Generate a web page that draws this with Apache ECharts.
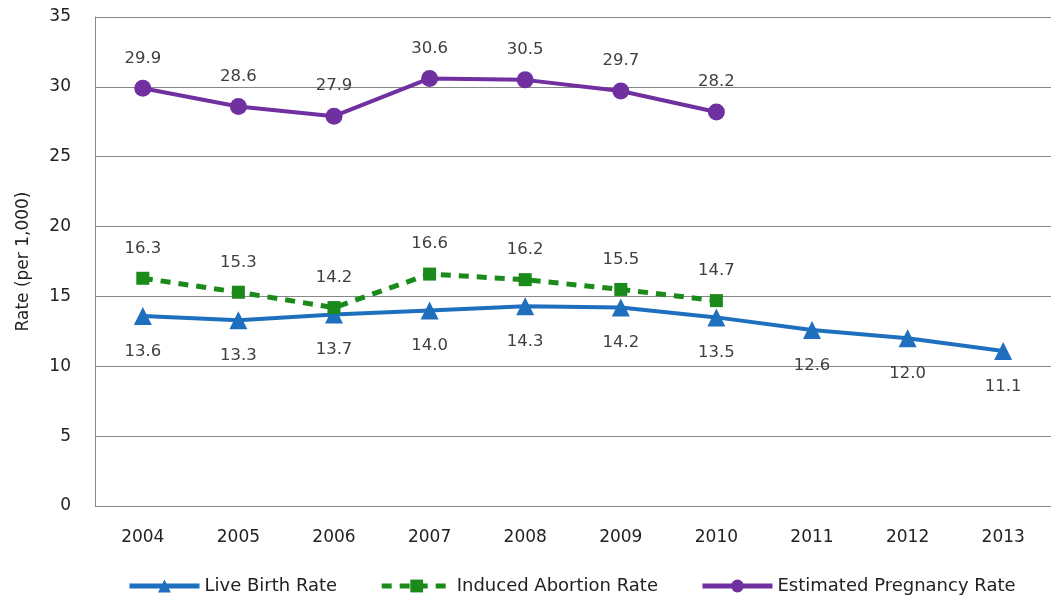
<!DOCTYPE html>
<html>
<head>
<meta charset="utf-8">
<script src="https://cdn.jsdelivr.net/npm/echarts@6/dist/echarts.min.js"></script>
<style>html,body{margin:0;padding:0;background:#fff}#c{width:1051px;height:603px}</style>
</head>
<body>
<div id="c"></div>
<script>
var years = ['2004','2005','2006','2007','2008','2009','2010','2011','2012','2013'];
var liveBirth = [13.6,13.3,13.7,14.0,14.3,14.2,13.5,12.6,12.0,11.1];
var abortion = [16.3,15.3,14.2,16.6,16.2,15.5,14.7,null,null,null];
var pregnancy = [29.9,28.6,27.9,30.6,30.5,29.7,28.2,null,null,null];
var yTicks = [0,5,10,15,20,25,30,35];

var chart = echarts.init(document.getElementById('c'), null, {renderer:'canvas'});
var font = 'DejaVu Sans, sans-serif';
var lbl = function(pos, dist){
  return {show:true, position:pos, distance:dist, color:'#404040', fontSize:16.5, fontFamily:font,
          formatter:function(p){return p.value==null?'':p.value.toFixed(1);}};
};
chart.setOption({
  animation:false,
  grid:{left:95, top:17, width:966, height:489, containLabel:false},
  legend:{
    bottom:3, left:122, itemWidth:70, itemHeight:16, itemGap:42,
    lineStyle:{width:5},
    textStyle:{fontSize:18, color:'#222', fontFamily:font},
    data:['Live Birth Rate','Induced Abortion Rate','Estimated Pregnancy Rate']
  },
  xAxis:{
    type:'category', data:years, boundaryGap:true,
    axisLine:{show:false}, axisTick:{show:false},
    axisLabel:{fontSize:17, color:'#222', fontFamily:font, margin:23}
  },
  yAxis:{
    type:'value', min:yTicks[0], max:yTicks[yTicks.length-1], interval:5,
    name:'Rate (per 1,000)', nameLocation:'middle', nameGap:63, nameRotate:90,
    nameTextStyle:{fontSize:17, color:'#222', fontFamily:font},
    axisLine:{show:true, lineStyle:{color:'#888', width:1}}, axisTick:{show:false},
    axisLabel:{fontSize:17, color:'#222', fontFamily:font, margin:24},
    splitLine:{lineStyle:{color:'#888', width:1}}
  },
  series:[
    {name:'Live Birth Rate', type:'line', data:liveBirth, symbol:'triangle', symbolSize:18,
     itemStyle:{color:'#1f6fbf'}, lineStyle:{color:'#1f6fbf', width:4},
     label:lbl('bottom',18)},
    {name:'Induced Abortion Rate', type:'line', data:abortion, symbol:'rect', symbolSize:13,
     itemStyle:{color:'#1a8a1a'}, lineStyle:{color:'#1a8a1a', width:5, type:[10,8]},
     label:lbl('top',15)},
    {name:'Estimated Pregnancy Rate', type:'line', data:pregnancy, symbol:'circle', symbolSize:17,
     itemStyle:{color:'#7030a0'}, lineStyle:{color:'#7030a0', width:4},
     label:lbl('top',13)}
  ]
});
</script>
</body>
</html>
